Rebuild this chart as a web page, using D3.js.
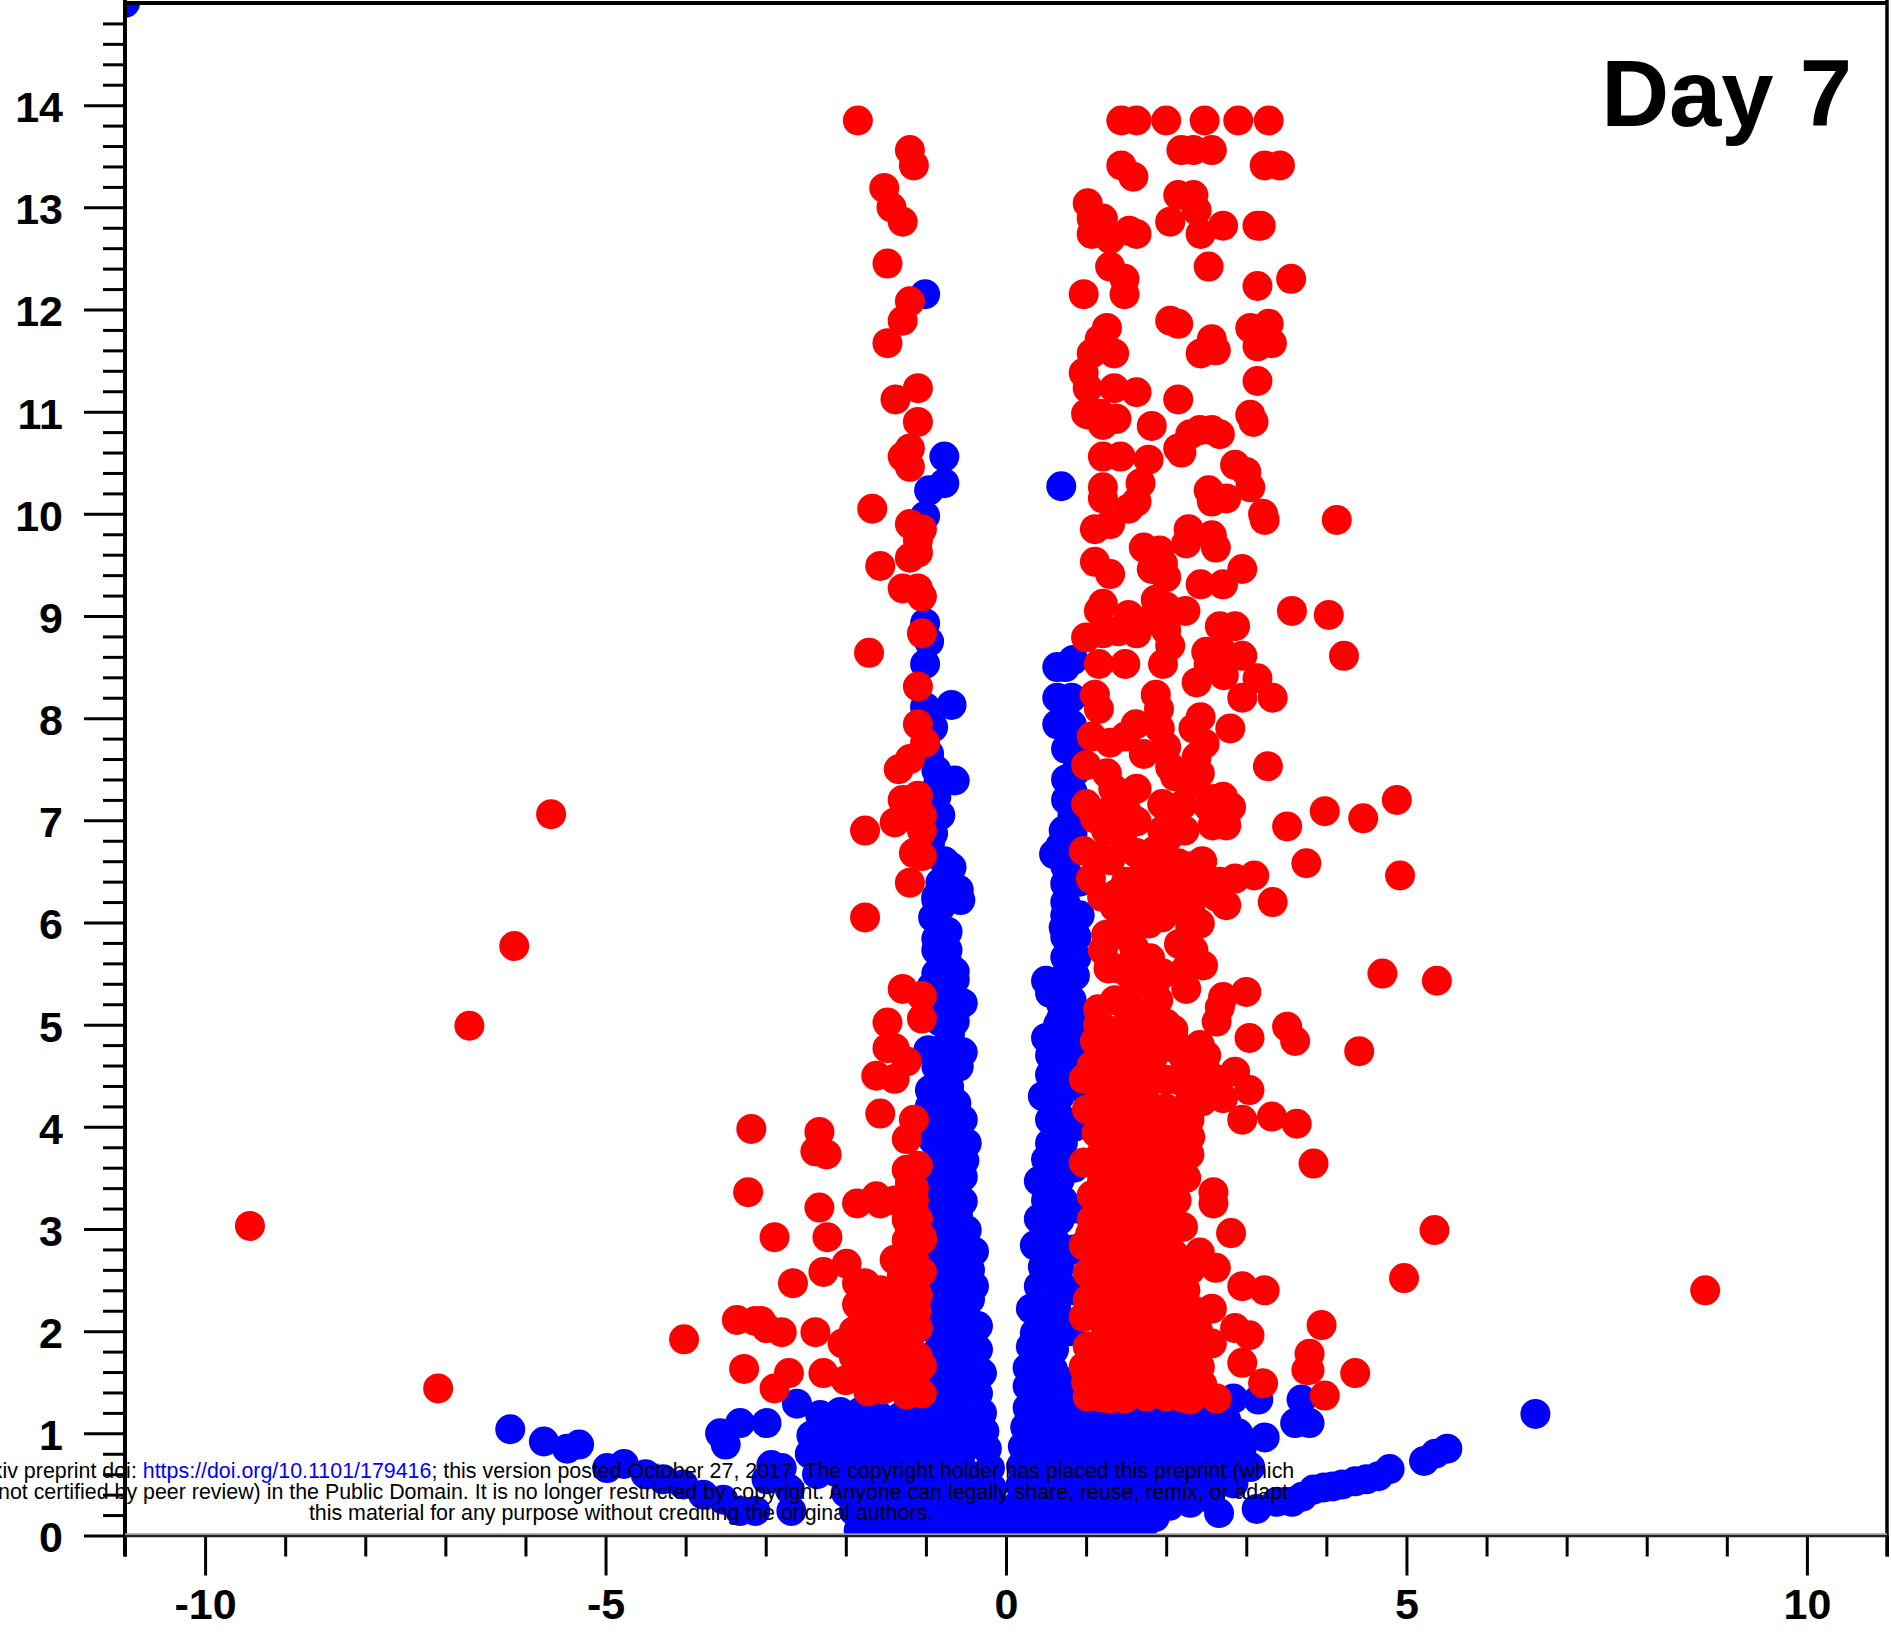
<!DOCTYPE html>
<html><head><meta charset="utf-8">
<script src="https://cdn.jsdelivr.net/npm/d3@7/dist/d3.min.js"></script>
<style>html,body{margin:0;padding:0;background:#fff;overflow:hidden}svg{display:block}text{font-family:"Liberation Sans",Arial,sans-serif}</style>
</head><body><div id="chart"></div>
<script>
// [log2 fold change, -log10 p] pairs
const xMajor=[-10,-5,0,5,10];
const xMinor=[-11,-9,-8,-7,-6,-4,-3,-2,-1,1,2,3,4,6,7,8,9,11];
const yMajor=[0,1,2,3,4,5,6,7,8,9,10,11,12,13,14];
const title="Day 7";
const noticeLines=["bioRxiv preprint doi: ","https://doi.org/10.1101/179416","; this version posted October 27, 2017. The copyright holder has placed this preprint (which",
"was not certified by peer review) in the Public Domain. It is no longer restricted by copyright. Anyone can legally share, reuse, remix, or adapt",
"this material for any purpose without crediting the original authors."];

const blueOutliers=[[-11,15],[0.69,10.27],[-1.01,12.15],[6.61,1.19]];
const blueLeftTail=[[-6.19,1.04],[-5.77,.92],[-5.48,.85],[-5.33,.89],[-4.98,.66],[-4.77,.7],[-4.5,.6],[-4.28,.55],[-4.03,.5],[-3.78,.4],[-3.53,.35],[-3.32,.24],[-3.13,.24],[-3.57,1.0],[-3.32,1.1],[-2.99,1.1],[-3.5,.89],[-2.61,1.29],[-2.93,.69],[-2.8,.66],[-2.99,.55],[-2.68,.24],[-2.7,.45]];
const blueRightTail=[[3.13,.26],[3.38,.33],[3.57,.33],[3.7,.38],[3.84,.45],[3.97,.47],[4.08,.48],[4.2,.5],[4.36,.53],[4.5,.55],[4.65,.58],[4.79,.65],[5.22,.73],[5.36,.8],[5.51,.85],[2.66,.22],[3.69,1.33],[3.61,1.1],[3.79,1.1],[2.84,1.34],[3.15,1.33],[3.23,.96],[2.75,1.13],[2.75,.97],[2.94,.84],[3.05,.67],[2.84,.51]];
const blueLeftUpper=[[-.77,10.56],[-.77,10.3],[-.96,10.23],[-1.01,9.98],[-1.01,8.93],[-.96,8.75],[-1.01,8.53],[-1.01,8.11],[-.68,8.13],[-.91,7.91],[-.96,7.65],[-.87,7.49],[-.64,7.39],[-.87,7.23],[-.82,7.05],[-.91,6.87],[-.95,6.77],[-.68,6.54],[-.82,6.39],[-.59,6.32],[-.87,6.25],[-.77,6.6],[-.85,7.35]];
const blueLeftColumn=[[-.57,6.22],[-.87,6.22],[-.91,6.05],[-.82,6.15],[-.73,5.91],[-.87,5.84],[-.73,5.73],[-.87,5.73],[-.64,5.52],[-.87,5.5],[-.74,5.63],[-.64,5.44],[-.93,5.37],[-.54,5.21],[-.74,5.21],[-.9,5.21],[-.64,5.03],[-.82,5.03],[-.72,5.1],[-.7,4.9],[-.54,4.73],[-.82,4.75],[-.97,4.75],[-.59,4.59],[-.87,4.59],[-.71,4.39],[-.95,4.36],[-.62,4.23],[-.95,4.2],[-.8,4.25],[-.54,4.07],[-.78,4.07],[-.87,4.0],[-.49,3.84],[-.74,3.84],[-.91,3.87],[-.54,3.51],[-.78,3.51],[-.9,3.6],[-.52,3.67],[-.76,3.67],[-.54,3.27],[-.78,3.28],[-.91,3.12],[-.6,3.13],[-.49,2.99],[-.74,2.99],[-.85,2.95],[-.4,2.78],[-.66,2.76],[-.87,2.73],[-.45,2.6],[-.7,2.6],[-.4,2.44],[-.7,2.44],[-.91,2.37],[-.45,2.31],[-.78,2.18],[-.6,2.2],[-.35,2.05],[-.57,2.01],[-.88,2.01],[-.35,1.82],[-.62,1.79],[-.87,1.79],[-.3,1.59],[-.57,1.56],[-.82,1.56],[-.35,1.39],[-.6,1.39],[-.85,1.39],[-.9,3.4],[-.65,3.4],[-.9,3.25],[-.62,2.9],[-.55,2.62],[-.85,2.55],[-.85,2.2],[-.6,1.9],[-.45,1.9],[-.45,1.7],[-.72,1.67],[-.45,1.45],[-.7,1.5],[-.5,2.15],[-.55,2.45],[-.65,3.0],[-.8,3.0]];
const blueRightColumn=[[.74,8.5],[.84,8.57],[.64,8.5],[.64,8.2],[.82,8.2],[.64,7.94],[.82,7.94],[.88,7.75],[.75,7.7],[.88,7.49],[.75,7.4],[.83,7.28],[.75,7.2],[.83,7.05],[.72,6.9],[.83,6.87],[.6,6.67],[.68,6.75],[.74,6.38],[.74,6.55],[.74,6.2],[.92,6.4],[.74,6.07],[.92,6.07],[.72,5.95],[.74,5.86],[.88,5.86],[.74,5.66],[.88,5.66],[.5,5.43],[.69,5.44],[.86,5.48],[.55,5.31],[.82,5.24],[.69,5.2],[.69,5.06],[.92,5.03],[.5,4.87],[.71,4.85],[.55,4.7],[.74,4.69],[.55,4.51],[.71,4.49],[.46,4.3],[.67,4.3],[.55,4.07],[.71,4.07],[.55,3.84],[.71,3.84],[.5,3.68],[.71,3.64],[.41,3.47],[.67,3.48],[.5,3.28],[.71,3.28],[.41,3.1],[.67,3.09],[.36,2.84],[.63,2.86],[.46,2.63],[.67,2.63],[.41,2.44],[.67,2.44],[.31,2.22],[.63,2.21],[.36,1.98],[.67,1.98],[.31,1.85],[.6,1.82],[.27,1.64],[.59,1.62],[.27,1.46],[.59,1.46],
[.5,1.4],[.45,1.6],[.5,1.85],[.5,2.1],[.55,2.3],[.55,2.55],[.55,2.75],[.55,3.0],[.6,3.2],[.6,3.4],[.6,3.6],[.62,3.75],[.62,3.95],[.62,4.2],[.62,4.4],[.62,4.6],[.65,4.8],[.65,5.0],[.8,2.0],[.8,1.5],[.85,2.4],[.85,2.8],[.85,3.2],[.85,3.6],[.85,4.0],[.85,4.4],[.85,4.8]];
const blueLeftMass=[[-2.32,1.18],[-2.07,1.21],[-1.82,1.21],[-1.57,1.16],[-1.32,1.16],[-1.07,1.16],[-.83,1.18],[-.58,1.16],[-.3,1.2],
[-2.43,.98],[-2.16,1.0],[-1.89,1.0],[-1.62,.98],[-1.35,1.0],[-1.08,.98],[-.81,.98],[-.54,1.0],[-.27,1.02],
[-2.45,.8],[-2.18,.8],[-1.91,.79],[-1.64,.8],[-1.37,.81],[-1.1,.8],[-.83,.79],[-.56,.8],[-.24,.85],
[-2.36,.6],[-2.12,.62],[-1.85,.6],[-1.58,.61],[-1.31,.6],[-1.04,.62],[-.77,.6],[-.5,.61],[-.2,.66],
[-2.0,.42],[-1.75,.42],[-1.48,.42],[-1.21,.43],[-.94,.42],[-.67,.41],[-.42,.43],[-.18,.47],
[-1.9,.24],[-1.65,.24],[-1.38,.23],[-1.11,.24],[-.84,.24],[-.57,.23],[-.32,.24],[-.14,.28],
[-1.84,.05],[-1.62,.06],[-1.32,.05],[-1.05,.06],[-.78,.05],[-.51,.05],[-.26,.06],[-.08,.1]];
const blueRightMass=[[.27,1.25],[.54,1.27],[.81,1.26],[1.08,1.25],[1.35,1.24],[1.62,1.25],[1.89,1.26],[2.16,1.25],[2.43,1.25],[2.65,1.22],
[.24,1.06],[.51,1.07],[.78,1.06],[1.05,1.05],[1.32,1.06],[1.59,1.07],[1.86,1.05],[2.13,1.06],[2.4,1.05],[2.6,1.06],[2.9,1.0],
[.21,.87],[.48,.87],[.75,.86],[1.02,.86],[1.29,.87],[1.56,.86],[1.83,.87],[2.1,.86],[2.37,.86],[2.64,.87],[2.87,.82],
[.19,.68],[.46,.68],[.73,.67],[1.0,.67],[1.27,.68],[1.54,.67],[1.81,.67],[2.08,.68],[2.35,.67],[2.62,.68],[2.85,.66],
[.18,.49],[.45,.49],[.72,.48],[.99,.48],[1.26,.49],[1.53,.48],[1.8,.49],[2.07,.48],[2.34,.49],[2.6,.48],[2.72,.54],
[.15,.3],[.42,.3],[.69,.29],[.96,.29],[1.23,.3],[1.5,.3],[1.77,.3],[2.04,.29],[2.3,.32],[2.46,.38],
[.1,.1],[.37,.11],[.64,.1],[.91,.1],[1.18,.11],[1.45,.1],[1.72,.1],[1.86,.18]];

const redOutliers=[[-9.44,3.03],[-7.09,1.44],[-6.7,4.99],[-6.14,5.77],[-5.68,7.06],[8.73,2.4],[-4.02,1.92]];
const redLeftUpper=[[-1.85,13.85],[-1.2,13.56],[-1.15,13.41],[-1.52,13.19],[-1.43,13.0],[-1.29,12.86],[-1.48,12.45],[-1.2,12.08],[-1.29,11.89],[-1.48,11.67],[-1.1,11.23],[-1.38,11.12],[-1.1,10.9],[-1.2,10.64],[-1.29,10.56],[-1.2,10.46],[-1.67,10.05],[-1.2,9.9],[-1.05,9.85],[-1.1,9.74],[-1.2,9.57],[-1.1,9.62],[-1.57,9.49],[-1.29,9.27],[-1.1,9.27],[-1.05,9.19],[-1.05,8.83],[-1.71,8.64],[-1.1,8.31],[-1.1,7.94],[-1.01,7.76],[-1.2,7.6],[-1.34,7.5],[-1.29,7.2],[-1.1,7.24],[-1.05,7.05],[-1.39,6.98],[-1.76,6.9],[-1.05,6.9],[-1.15,6.68],[-1.05,6.65],[-1.2,6.39],[-1.15,7.1],[-1.2,7.2],[-1.76,6.05]];
const redLeftMiddle=[[-1.29,5.35],[-1.05,5.28],[-1.05,5.06],[-1.48,5.02],[-1.48,4.77],[-1.39,4.77],[-1.24,4.64],[-1.39,4.47],[-1.62,4.5],[-1.57,4.13],[-1.15,4.07],[-1.24,3.88],[-2.33,3.95],[-2.38,3.76],[-2.24,3.73],[-3.18,3.98],[-1.24,3.58],[-1.1,3.62],[-3.22,3.36],[-2.33,3.21],[-1.86,3.25],[-1.62,3.32],[-1.57,3.25],[-1.39,3.28],[-1.15,3.28],[-1.15,3.4],[-1.24,3.09],[-2.89,2.92],[-2.23,2.92],[-1.24,2.89],[-1.05,2.92],[-1.05,2.89],[-1.39,2.7],[-1.15,2.7],[-1.05,2.58],[-1.99,2.66],[-2.28,2.58],[-2.66,2.47],[-1.86,2.47],[-1.76,2.47],[-1.2,2.45],[-1.1,2.35],[-1.3,2.55],[-1.2,2.7],[-1.15,2.8],[-1.2,3.0],[-1.2,3.2],[-1.1,3.1],[-1.2,3.45]];
const redLeftLower=[[-1.86,2.26],[-1.39,2.4],[-1.57,2.4],[-1.32,2.26],[-1.62,2.26],[-3.36,2.11],[-3.13,2.1],[-3.06,2.1],[-2.99,2.03],[-2.8,1.99],[-2.38,1.99],[-2.04,1.88],[-1.8,2.04],[-1.57,2.04],[-1.32,2.04],[-1.1,2.03],[-1.8,1.85],[-1.53,1.85],[-1.28,1.85],[-1.05,1.66],[-3.27,1.63],[-2.71,1.59],[-2.89,1.44],[-2.28,1.59],[-2.0,1.52],[-1.72,1.65],[-1.32,1.65],[-1.72,1.41],[-1.53,1.43],[-1.24,1.38],[-1.05,1.39],[-1.5,1.6],[-1.55,1.65],[-1.35,2.15],[-1.6,2.15],[-1.2,2.2],[-1.2,1.95],[-1.7,1.95],[-1.45,1.95],[-1.4,1.75],[-1.65,1.75],[-1.4,1.5],[-1.15,1.5],[-1.6,1.5],[-1.8,1.55],[-1.8,1.7],[-1.55,1.55],[-1.3,1.75],[-1.1,1.75],[-1.12,2.2],[-1.5,2.3],[-1.75,2.15],[-1.45,2.3],[-1.9,2.0],[-1.9,1.75],[-1.6,1.9]];
const redRightTop=[[1.44,13.85],[1.63,13.85],[2.0,13.85],[2.48,13.85],[2.9,13.85],[3.28,13.85],[2.19,13.56],[2.34,13.56],[2.57,13.56],[3.23,13.41],[3.42,13.41],[1.44,13.41],[1.59,13.3],[2.15,13.12],[2.34,13.12],[2.38,12.97],[2.05,12.86],[2.43,12.74],[2.71,12.82],[3.14,12.82],[3.18,12.82],[1.02,13.04],[1.07,12.89],[1.21,12.89],[1.07,12.74],[1.3,12.69],[1.54,12.77],[1.63,12.74],[1.3,12.42],[1.48,12.3],[1.48,12.15],[.97,12.15],[2.53,12.42],[3.14,12.23],[3.56,12.3],[2.05,11.89],[2.15,11.86],[2.57,11.71],[2.43,11.57],[2.62,11.6],[3.05,11.82],[3.28,11.86],[3.32,11.67],[3.14,11.64],[3.21,11.76],[1.26,11.82],[1.17,11.71],[1.07,11.57],[1.35,11.57],[.97,11.38],[1.02,11.23],[1.35,11.23],[1.63,11.19],[2.15,11.12],[3.14,11.3],[3.05,10.97],[1.03,10.97],[1.36,10.93],[1.0,10.98],[1.21,10.87],[1.38,10.93],[1.17,10.98],[1.82,10.86],[3.09,10.9]];
const redRightUpper=[[2.3,10.78],[2.42,10.82],[2.57,10.82],[2.67,10.78],[2.15,10.64],[2.19,10.6],[1.21,10.56],[1.43,10.56],[1.78,10.53],[2.86,10.48],[3.0,10.41],[3.05,10.26],[2.53,10.23],[2.57,10.12],[2.75,10.15],[3.21,10.0],[3.23,9.94],[4.13,9.94],[1.21,10.26],[1.21,10.15],[1.68,10.3],[1.63,10.12],[1.53,10.05],[1.11,9.85],[1.3,9.9],[2.28,9.85],[2.57,9.79],[2.62,9.67],[1.72,9.67],[1.92,9.64],[2.25,9.71],[1.11,9.53],[1.3,9.41],[1.82,9.46],[2.0,9.38],[1.96,9.51],[2.95,9.46],[2.43,9.31],[2.71,9.31],[3.57,9.05],[4.03,9.01],[4.22,8.61],[1.87,9.16],[2.24,9.05],[2.0,9.09],[1.21,9.12],[1.16,9.05],[1.53,9.01],[1.0,8.79],[1.21,8.83],[1.63,8.83],[2.0,8.86],[2.05,8.71],[1.96,8.53],[1.49,8.53],[1.16,8.53],[2.67,8.9],[2.86,8.9],[2.5,8.65],[2.95,8.61],[2.53,8.53],[2.72,8.42],[2.38,8.35],[3.14,8.39],[2.95,8.2],[3.33,8.2],[1.11,8.23],[1.16,8.09],[1.87,8.23],[1.91,8.09],[2.43,8.01],[2.34,7.9],[2.8,7.9],[1.4,8.85],[1.75,8.95],[2.7,8.65]];
const redRightMiddle=[[1.62,7.94],[1.07,7.82],[1.3,7.76],[1.49,7.82],[1.72,7.65],[1.92,7.9],[2.0,7.72],[2.48,7.75],[2.38,7.62],[2.42,7.46],[2.11,7.43],[2.05,7.52],[1.0,7.54],[1.26,7.46],[1.63,7.31],[1.95,7.16],[1.34,7.31],[1.0,7.16],[1.17,7.03],[1.11,7.02],[2.59,7.21],[2.71,7.23],[2.81,7.13],[2.53,7.13],[2.58,6.95],[2.75,6.95],[1.63,6.99],[2.23,6.9],[2.03,6.84],[3.27,7.53],[3.51,6.94],[3.98,7.09],[4.46,7.02],[4.88,7.2],[3.75,6.58],[4.92,6.46],[.97,6.7],[1.3,6.61],[1.06,6.43],[1.63,6.68],[1.73,6.51],[2.15,6.58],[2.17,6.45],[2.46,6.43],[2.67,6.4],[2.86,6.43],[3.1,6.46],[3.33,6.2],[1.38,6.28],[1.76,6.25],[2.3,6.25],[2.63,6.25],[1.36,6.15],[1.73,6.22],[2.05,6.15],[2.3,6.15],[2.75,6.17],[1.59,5.99],[1.78,5.99],[2.42,5.99],[2.05,6.12],[1.25,5.88],[1.44,5.88],[1.21,5.73],[1.28,5.55],[2.16,5.79],[2.34,5.73],[2.46,5.58],[2.25,5.35],[1.71,5.57],[1.96,5.5],[1.53,5.5],[1.63,5.4],[1.36,5.24],[1.59,5.14],[1.9,5.24],[2.0,5.01],[2.09,4.95],[2.71,5.27],[3.0,5.32],[2.67,5.17],[2.63,5.03],[3.04,4.87],[3.51,4.98],[3.61,4.84],[4.7,5.5],[5.38,5.43],[4.41,4.74],
[1.3,7.1],[1.5,7.1],[1.25,6.9],[1.45,6.85],[1.85,6.7],[1.95,6.9],[1.5,6.4],[1.6,6.2],[1.9,6.3],[1.95,6.05],[2.3,6.55],[2.45,6.6],[2.05,7.0],[1.95,6.5],[2.1,6.3],[1.15,6.65],[1.2,6.25],[2.2,7.15],[1.15,5.15],[1.85,5.35],[1.15,5.0],[2.25,5.55],[1.4,5.55],[1.8,5.65],[1.6,5.75],[2.3,5.95],[2.3,7.35]];
const redRightLower=[[1.11,4.84],[1.44,4.85],[2.42,4.8],[1.07,4.6],[2.0,4.78],[1.84,4.69],[1.53,4.72],[2.21,4.69],[2.38,4.62],[.97,4.47],[2.86,4.54],[3.04,4.36],[2.63,4.46],[2.71,4.28],[1.59,4.52],[2.0,4.46],[1.17,4.33],[2.3,4.26],[2.95,4.07],[3.32,4.1],[3.63,4.03],[2.29,4.07],[1.01,4.17],[1.21,4.1],[1.59,4.13],[1.92,4.0],[1.13,3.94],[1.38,3.87],[1.67,3.81],[.97,3.65],[2.29,3.73],[2.25,3.5],[2.59,3.36],[2.59,3.25],[2.81,2.96],[1.9,3.55],[1.67,3.58],[1.34,3.61],[3.84,3.64],[1.07,3.33],[1.34,3.35],[1.59,3.32],[1.84,3.28],[2.13,3.28],[2.21,3.02],[2.0,3.09],[1.07,3.09],[1.38,3.12],[1.67,3.09],[.97,2.84],[1.25,2.86],[1.59,2.83],[1.8,2.8],[2.42,2.77],[2.62,2.62],[2.05,2.6],[1.02,2.57],[1.02,2.31],[1.3,2.57],[1.59,2.57],[1.84,2.57],[2.24,2.4],[2.95,2.44],[3.23,2.4],[2.57,2.22],[2.25,2.05],[.97,2.14],[1.25,2.31],[1.59,2.31],[1.88,2.34],[1.25,2.01],[1.59,2.05],[1.92,2.08],[2.86,2.03],[3.04,1.96],[2.57,1.88],[2.3,1.85],[2.0,1.82],[1.71,1.78],[1.02,1.85],[.97,1.65],[1.25,1.72],[1.59,1.59],[2.42,1.65],[2.95,1.69],[3.21,1.49],[3.79,1.78],[3.79,1.62],[3.94,2.06],[3.75,1.62],[4.36,1.59],[3.98,1.37],[4.97,2.52],[5.35,2.99],[2.63,1.34],[2.3,1.33],[1.02,1.36],[1.2,1.35],[1.3,1.34],[1.48,1.34],[1.75,1.36],[2.0,1.36],[1.0,1.5],[1.25,1.5],[1.5,1.48],[1.75,1.52],[2.0,1.5],[2.25,1.5],[2.45,1.48],[2.05,1.7],[2.25,1.75],[2.15,2.2],[1.9,1.95],[1.45,1.85],[1.7,2.2],[1.4,2.2],[1.15,2.45],[1.45,2.45],[1.72,2.45],[2.0,2.35],[1.15,2.7],[1.45,2.7],[1.72,2.7],[1.95,2.9],[1.2,3.0],[1.5,2.98],[1.9,3.05],[1.2,3.22],[1.48,3.22],[1.75,3.2],[2.0,3.3],[1.2,3.48],[1.48,3.48],[1.78,3.42],[2.05,3.45],[1.2,3.75],[1.5,3.72],[1.8,3.7],[2.05,3.72],[1.45,4.0],[1.7,3.98],[1.9,3.82],[2.15,3.9],[1.35,4.2],[1.75,4.25],[2.0,4.18],[1.3,4.48],[1.8,4.5],[2.18,4.45],[1.28,4.72],[1.75,4.85],[1.25,4.95],[1.5,5.0],[1.78,5.1],
[2.2,1.35],[2.4,1.4],[2.15,1.6],[2.4,1.8],[2.2,1.95],[2.4,2.0],[2.0,2.0],[2.05,2.2],[2.35,2.2],[1.85,1.6],[1.6,1.8],[1.25,1.95],[1.4,1.6],[1.15,1.6],[1.15,1.85],[1.15,2.15],[1.4,2.05],[1.6,1.95],[1.75,2.05],[1.85,1.8],[1.4,2.35],[1.8,2.35],[2.1,2.5],[2.3,2.6],[1.95,2.6],[2.1,2.75],[1.9,2.75],[1.3,2.85],[1.75,2.95],[1.3,3.0],[1.05,2.95],[1.1,2.6],[1.05,2.2],[1.1,1.75],
[2.45,4.25],[2.55,4.5],[2.4,4.4],[2.15,4.15],[2.5,4.7],[2.05,3.9],[2.3,3.9],[1.55,4.35],[1.15,4.6],[1.5,4.6],[1.75,4.65],[2.1,4.85]];

const allBlue=[...blueOutliers,...blueLeftTail,...blueRightTail,...blueLeftUpper,...blueLeftColumn,...blueRightColumn,...blueLeftMass,...blueRightMass];
const allRed=[...redOutliers,...redLeftUpper,...redLeftMiddle,...redLeftLower,...redRightTop,...redRightUpper,...redRightMiddle,...redRightLower];

const W=1891,H=1634;
const x=d3.scaleLinear().domain([-11,11]).range([125,1887]);
const y=d3.scaleLinear().domain([0,15]).range([1535.5,3]);
const svg=d3.select("#chart").append("svg").attr("width",W).attr("height",H);
svg.append("rect").attr("width",W).attr("height",H).attr("fill","#fff");
svg.append("clipPath").attr("id","plot").append("rect").attr("x",x(-11)).attr("y",y(15)).attr("width",x(11)-x(-11)).attr("height",y(0)-y(15));
const plot=svg.append("g").attr("clip-path","url(#plot)");
plot.selectAll("circle.b").data(allBlue).join("circle").attr("class","b").attr("cx",d=>x(d[0])).attr("cy",d=>y(d[1])).attr("r",15).attr("fill","#0000ff");
plot.selectAll("circle.r").data(allRed).join("circle").attr("class","r").attr("cx",d=>x(d[0])).attr("cy",d=>y(d[1])).attr("r",15).attr("fill","#ff0000");

// axes
const fmt=v=>String(v);
const styleAxis=(g,w)=>{g.select(".domain").remove();g.selectAll("line").attr("stroke","#000").attr("stroke-width",w);
  g.selectAll("text").attr("font-family",'"Liberation Sans",Arial,sans-serif').attr("font-weight","bold").attr("font-size",43).attr("fill","#000");};
const yMinorVals=d3.range(0,75).map(i=>i/5).filter(v=>!yMajor.includes(v));
svg.append("g").attr("transform",`translate(${x(-11)},0)`).call(d3.axisLeft(y).tickValues(yMinorVals).tickSize(22).tickFormat("")).call(g=>styleAxis(g,3));
svg.append("g").attr("transform",`translate(${x(-11)},0)`).call(d3.axisLeft(y).tickValues(yMajor).tickSize(41).tickPadding(21).tickFormat(fmt)).call(g=>styleAxis(g,3)).call(g=>g.selectAll("text").attr("dy","0.38em"));
svg.append("g").attr("transform",`translate(0,${y(0)})`).call(d3.axisBottom(x).tickValues(xMinor).tickSize(21).tickFormat("")).call(g=>styleAxis(g,3));
svg.append("g").attr("transform",`translate(0,${y(0)})`).call(d3.axisBottom(x).tickValues(xMajor).tickSize(40).tickPadding(0).tickFormat(fmt)).call(g=>styleAxis(g,3)).call(g=>g.selectAll("text").attr("dy",null).attr("y",83.5));
// frame
const frame=svg.append("g");
frame.append("line").attr("x1",x(-11)).attr("x2",x(-11)).attr("y1",y(15)-3).attr("y2",y(0)+21).attr("stroke","#000").attr("stroke-width",4);
frame.append("line").attr("x1",x(11)).attr("x2",x(11)).attr("y1",y(15)-3).attr("y2",y(0)+21).attr("stroke","#000").attr("stroke-width",3.5);
frame.append("line").attr("x1",x(-11)).attr("x2",x(11)).attr("y1",y(15)).attr("y2",y(15)).attr("stroke","#000").attr("stroke-width",4);
frame.append("line").attr("x1",x(-11)).attr("x2",x(11)).attr("y1",y(0)-1.3).attr("y2",y(0)-1.3).attr("stroke","#999").attr("stroke-width",2);
frame.append("line").attr("x1",x(-11)).attr("x2",x(11)).attr("y1",y(0)+.6).attr("y2",y(0)+.6).attr("stroke","#222").attr("stroke-width",2.2);

svg.append("text").attr("x",1852).attr("y",126).attr("text-anchor","end").attr("font-weight","bold").attr("font-size",94).attr("fill","#000").text(title);

const notice=svg.append("g").attr("font-size",21.4).attr("fill","#000").attr("text-anchor","middle");
const l1=notice.append("text").attr("x",621).attr("y",1478);
l1.append("tspan").text(noticeLines[0]);
l1.append("tspan").attr("fill","#0000ff").text(noticeLines[1]);
l1.append("tspan").text(noticeLines[2]);
notice.append("text").attr("x",621).attr("y",1499).text(noticeLines[3]);
notice.append("text").attr("x",621).attr("y",1520).text(noticeLines[4]);
</script></body></html>
